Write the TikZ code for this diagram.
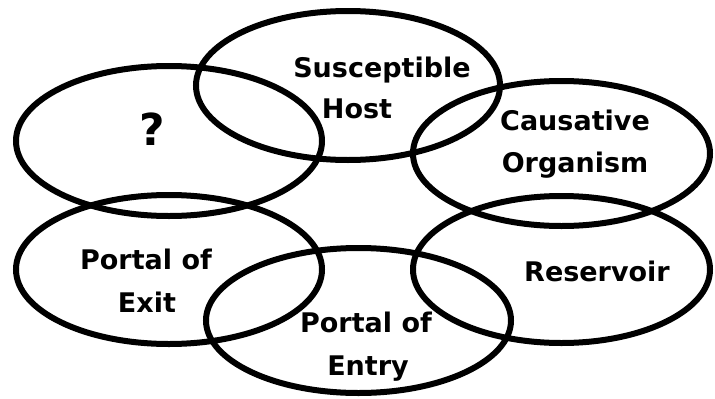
\documentclass[tikz,border=0pt]{standalone}
\usepackage{fontspec}
\setmainfont{DejaVu Sans}
\begin{document}
\begin{tikzpicture}[x=1pt,y=-1pt,
  ring/.style={draw=black,line width=6pt},
  lbl/.style={font=\fontsize{27}{32}\selectfont\bfseries,inner sep=0pt,anchor=base}]
\useasboundingbox (0,0) rectangle (715,399);
% ellipses
\coordinate (cq) at (169,141);
\coordinate (ch) at (348,85.5);
\coordinate (cc) at (561.5,153.5);
\coordinate (cx) at (169,269.5);
\coordinate (cr) at (561.5,269.5);
\coordinate (ce) at (358.5,320.5);
\draw[ring] (cq) ellipse [x radius=153, y radius=75];
\draw[ring] (ch) ellipse [x radius=152, y radius=74.5];
\draw[ring] (cc) ellipse [x radius=148.5, y radius=72.5];
\draw[ring] (cx) ellipse [x radius=153, y radius=74.5];
\draw[ring] (cr) ellipse [x radius=148.5, y radius=73.5];
\draw[ring] (ce) ellipse [x radius=152.5, y radius=72.5];
% labels
\node[lbl,font=\fontsize{44}{50}\selectfont\bfseries] (tq) at (152,145) {?};
\node[lbl] (th1) at (382,77) {Susceptible};
\node[lbl] (th2) at (357,118) {Host};
\node[lbl] (tc1) at (575,130) {Causative};
\node[lbl] (tc2) at (575,172) {Organism};
\node[lbl] (tx1) at (146,269) {Portal of};
\node[lbl] (tx2) at (147,312) {Exit};
\node[lbl] (tr) at (597,281) {Reservoir};
\node[lbl] (te1) at (366,332) {Portal of};
\node[lbl] (te2) at (368,375) {Entry};
\end{tikzpicture}
\end{document}
